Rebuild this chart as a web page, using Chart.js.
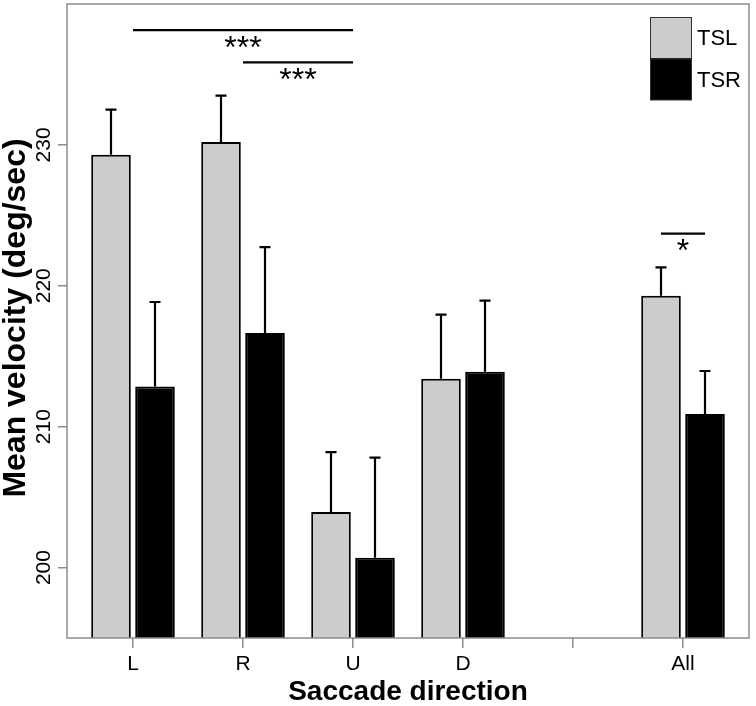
<!DOCTYPE html>
<html>
<head>
<meta charset="utf-8">
<script src="https://cdn.jsdelivr.net/npm/chart.js@4.4.1/dist/chart.umd.min.js"></script>
<style>
  html, body { margin: 0; padding: 0; background: #fff; }
  #wrap { width: 756px; height: 706px; }
</style>
</head>
<body>
<div id="wrap"><canvas id="velChart" width="756" height="706"></canvas></div>
<script>
const categories = ['L', 'R', 'U', 'D', '', 'All'];
const tslMean = [229.3, 230.2, 203.95, 213.4, null, 219.3];
const tslErr = [3.2, 3.3, 4.25, 4.55, null, 2.0];
const tsrMean = [212.85, 216.65, 200.7, 213.9, null, 210.9];
const tsrErr = [6.0, 6.1, 7.1, 5.05, null, 3.05];
const yTicks = [200, 210, 220, 230];

// significance brackets
const sigFrom = [0, 1, 4.8];
const sigTo = [2, 2, 5.2];
const sigY = [238.15, 235.85, 223.7];
const sigLabel = ['***', '***', '*'];

const FONT = "'Liberation Sans', Arial, Helvetica, sans-serif";
Chart.defaults.font.family = FONT;
Chart.defaults.color = '#000';

const toPoints = (vals) => vals.map((v, i) => v == null ? null : { x: i, y: v }).filter(p => p);

// error bars (upper only), drawn from the bar tops
const errorBars = {
    id: 'errorBars',
    afterDatasetsDraw(chart) {
        const ctx = chart.ctx;
        const y = chart.scales.y;
        ctx.save();
        ctx.strokeStyle = '#000';
        ctx.lineWidth = 2.2;
        chart.data.datasets.forEach((ds, di) => {
            chart.getDatasetMeta(di).data.forEach((bar, j) => {
                const pt = ds.data[j];
                const top = y.getPixelForValue(pt.y + ds.errors[pt.x]);
                ctx.beginPath();
                ctx.moveTo(bar.x, bar.y);
                ctx.lineTo(bar.x, top);
                ctx.moveTo(bar.x - 5.5, top);
                ctx.lineTo(bar.x + 5.5, top);
                ctx.stroke();
            });
        });
        ctx.restore();
    }
};

// frame, rotated y labels, significance marks and legend
const decorations = {
    id: 'decorations',
    afterDraw(chart) {
        const ctx = chart.ctx;
        const area = chart.chartArea;
        const x = chart.scales.x, y = chart.scales.y;
        ctx.save();

        ctx.strokeStyle = '#8c8c8c';
        ctx.lineWidth = 1.5;
        ctx.strokeRect(area.left, area.top, area.right - area.left, area.bottom - area.top);

        ctx.fillStyle = '#000';
        ctx.textAlign = 'center';
        ctx.textBaseline = 'middle';
        ctx.font = '21px ' + FONT;
        yTicks.forEach(v => {
            ctx.save();
            ctx.translate(44, y.getPixelForValue(v));
            ctx.rotate(-Math.PI / 2);
            ctx.fillText(String(v), 0, 0);
            ctx.restore();
        });
        ctx.save();
        ctx.font = 'bold 32px ' + FONT;
        ctx.translate(16, (area.top + area.bottom) / 2 - 3);
        ctx.rotate(-Math.PI / 2);
        ctx.fillText('Mean velocity (deg/sec)', 0, 0);
        ctx.restore();

        ctx.lineWidth = 2.2;
        ctx.strokeStyle = '#000';
        ctx.font = '32px ' + FONT;
        sigLabel.forEach((lab, i) => {
            const x0 = x.getPixelForValue(sigFrom[i]);
            const x1 = x.getPixelForValue(sigTo[i]);
            const py = y.getPixelForValue(sigY[i]);
            ctx.beginPath();
            ctx.moveTo(x0, py);
            ctx.lineTo(x1, py);
            ctx.stroke();
            ctx.fillText(lab, (x0 + x1) / 2, py + 19);
        });

        // legend: stacked swatches at top right
        const bx = area.right - 99, bw = 42;
        let by = area.top + 13;
        ctx.font = '22px ' + FONT;
        ctx.textAlign = 'left';
        ctx.lineWidth = 1;
        chart.data.datasets.forEach(ds => {
            ctx.fillStyle = ds.backgroundColor;
            ctx.fillRect(bx, by, bw, 41.5);
            ctx.strokeStyle = '#333';
            ctx.strokeRect(bx + 0.5, by + 0.5, bw - 1, 41);
            ctx.fillStyle = '#000';
            ctx.fillText(ds.label, bx + bw + 5, by + 22);
            by += 41.5;
        });
        ctx.restore();
    }
};

new Chart(document.getElementById('velChart'), {
    type: 'bar',
    data: {
        datasets: [{
            label: 'TSL',
            data: toPoints(tslMean),
            errors: tslErr,
            backgroundColor: '#cccccc',
            borderColor: '#000',
            borderWidth: 2,
            borderSkipped: 'start'
        }, {
            label: 'TSR',
            data: toPoints(tsrMean),
            errors: tsrErr,
            backgroundColor: '#000000',
            borderColor: '#000',
            borderWidth: 2,
            borderSkipped: 'start'
        }]
    },
    options: {
        responsive: false,
        animation: false,
        devicePixelRatio: 1,
        categoryPercentage: 0.8,
        barPercentage: 0.9,
        layout: { padding: { left: 0, right: 7, top: 4, bottom: 0 } },
        plugins: {
            legend: { display: false },
            tooltip: { enabled: false }
        },
        scales: {
            x: {
                type: 'linear',
                offset: false,
                min: -0.6,
                max: 5.6,
                afterBuildTicks: s => { s.ticks = categories.map((c, i) => ({ value: i })); },
                afterFit: s => { s.height = 68; },
                ticks: {
                    callback: v => categories[v],
                    font: { size: 21 },
                    color: '#000',
                    padding: 4,
                    autoSkip: false,
                    maxRotation: 0
                },
                grid: { offset: false, drawOnChartArea: false, drawTicks: true, tickLength: 10, color: '#8c8c8c', lineWidth: 1.5 },
                border: { display: false },
                title: {
                    display: true,
                    text: 'Saccade direction',
                    font: { size: 28, weight: 'bold', lineHeight: 1 },
                    color: '#000',
                    padding: 0
                }
            },
            y: {
                min: 195,
                max: 240,
                afterBuildTicks: s => { s.ticks = yTicks.map(v => ({ value: v })); },
                afterFit: s => { s.width = 67; },
                ticks: { display: false },
                grid: { drawOnChartArea: false, drawTicks: true, tickLength: 9, color: '#8c8c8c', lineWidth: 1.5 },
                border: { display: false }
            }
        }
    },
    plugins: [errorBars, decorations]
});
</script>
</body>
</html>
